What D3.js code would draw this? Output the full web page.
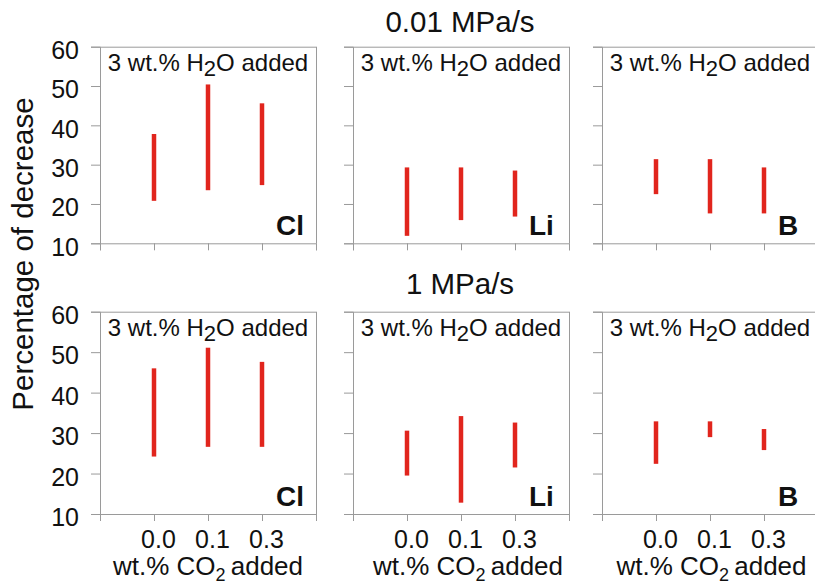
<!DOCTYPE html>
<html>
<head>
<meta charset="utf-8">
<script src="https://cdn.jsdelivr.net/npm/d3@7/dist/d3.min.js"></script>
<style>
  html, body { margin: 0; padding: 0; background: #fff; }
  svg { display: block; font-family: Arial, "Liberation Sans", sans-serif; }
</style>
</head>
<body>
<svg id="chart" width="815" height="586"></svg>
<script>
// ---------------- data ----------------
const elements = ["Cl", "Li", "B"];
const rates = ["0.01 MPa/s", "1 MPa/s"];
const co2Labels = ["0.0", "0.1", "0.3"];
const yTicks = [10, 20, 30, 40, 50, 60];
const panelNote = "3 wt.% H2O added";
const yTitle = "Percentage of decrease";
const xTitle = "wt.% CO2 added";

// percentage-of-decrease ranges (low, high) per CO2 level
// 0.01 MPa/s
const slowClLow  = [20.8, 23.5, 24.8], slowClHigh = [37.8, 50.4, 45.6];
const slowLiLow  = [11.9, 15.9, 16.8], slowLiHigh = [29.3, 29.3, 28.5];
const slowBLow   = [22.5, 17.6, 17.6], slowBHigh  = [31.4, 31.4, 29.3];
// 1 MPa/s
const fastClLow  = [24.2, 26.6, 26.6], fastClHigh = [46.0, 51.1, 47.6];
const fastLiLow  = [19.5, 12.8, 21.5], fastLiHigh = [30.6, 34.2, 32.6];
const fastBLow   = [22.4, 29.0, 25.8], fastBHigh  = [32.9, 32.9, 31.0];

const lows  = [[slowClLow, slowLiLow, slowBLow], [fastClLow, fastLiLow, fastBLow]];
const highs = [[slowClHigh, slowLiHigh, slowBHigh], [fastClHigh, fastLiHigh, fastBHigh]];

// ---------------- layout ----------------
const panelLeft = [100, 353, 602];
const panelW = 216;
const rowY = [{ top: 46.7, bottom: 243.3 }, { top: 311.7, bottom: 514 }];
const titleBaseline = [32, 293.5];
const xTitleShift = [0, 7, 1.5];
const axisColor = "#9a9a9a";
const barColor = "#e1251d";

const svg = d3.select("#chart");

rates.forEach((rate, r) => {
  const y = d3.scaleLinear().domain([10, 60]).range([rowY[r].bottom, rowY[r].top]);

  // row title
  svg.append("text")
    .attr("x", 460).attr("y", titleBaseline[r])
    .attr("text-anchor", "middle")
    .attr("font-size", 29.5).attr("fill", "#111")
    .text(rate);

  elements.forEach((el, e) => {
    const x = d3.scaleLinear().domain([0, 4]).range([panelLeft[e], panelLeft[e] + panelW]);
    const g = svg.append("g");

    // box (top + right)
    g.append("line")
      .attr("x1", x(0)).attr("x2", x(4))
      .attr("y1", y(60) + 0.5).attr("y2", y(60) + 0.5)
      .attr("stroke", axisColor);
    g.append("line")
      .attr("x1", x(4) + 0.5).attr("x2", x(4) + 0.5)
      .attr("y1", y(60)).attr("y2", y(10))
      .attr("stroke", axisColor);

    // y axis
    const yAxis = d3.axisLeft(y).tickValues(yTicks).tickSize(9).tickPadding(12)
      .tickFormat(e === 0 ? d3.format("d") : () => "");
    const ya = g.append("g").attr("transform", `translate(${x(0)},0)`).call(yAxis);
    ya.select(".domain").attr("stroke", axisColor);
    ya.selectAll(".tick line").attr("stroke", axisColor);
    ya.selectAll(".tick text")
      .attr("font-size", 25).attr("fill", "#111")
      .attr("font-family", 'Arial, "Liberation Sans", sans-serif')
      .attr("dy", "0.47em");

    // x axis (ticks only)
    const xAxis = d3.axisBottom(x).tickValues([0, 1, 2, 3, 4]).tickSize(7).tickFormat(() => "");
    const xa = g.append("g").attr("transform", `translate(0,${y(10)})`).call(xAxis);
    xa.select(".domain").attr("stroke", axisColor);
    xa.selectAll(".tick line").attr("stroke", axisColor);

    // range bars
    g.selectAll("line.bar")
      .data(co2Labels.map((c, i) => ({ i, lo: lows[r][e][i], hi: highs[r][e][i] })))
      .join("line")
      .attr("class", "bar")
      .attr("x1", d => x(d.i + 1)).attr("x2", d => x(d.i + 1))
      .attr("y1", d => y(d.lo)).attr("y2", d => y(d.hi))
      .attr("stroke", barColor).attr("stroke-width", 4.5);

    // note "3 wt.% H2O added"
    const parts = panelNote.split("2");
    const note = g.append("text")
      .attr("x", x(2)).attr("y", y(60) + 24.3)
      .attr("text-anchor", "middle")
      .attr("font-size", 24).attr("fill", "#111");
    note.append("tspan").text(parts[0]);
    note.append("tspan").attr("font-size", 22).attr("dy", 5).text("2");
    note.append("tspan").attr("dy", -5).text(parts[1]);

    // element label
    g.append("text")
      .attr("x", x(0) + 176).attr("y", y(10) - 8)
      .attr("font-size", 28).attr("font-weight", "bold").attr("fill", "#111")
      .text(el);

    if (r === 1) {
      // category labels
      g.selectAll("text.cat")
        .data(co2Labels)
        .join("text")
        .attr("class", "cat")
        .attr("x", (d, i) => x(i + 1) + 4.5)
        .attr("y", y(10) + 34.3)
        .attr("text-anchor", "middle")
        .attr("font-size", 25).attr("fill", "#111")
        .text(d => d);

      // x title
      const xp = xTitle.split("2");
      const xt = g.append("text")
        .attr("x", x(2) + xTitleShift[e]).attr("y", 575)
        .attr("text-anchor", "middle")
        .attr("font-size", 26).attr("fill", "#111");
      xt.append("tspan").text(xp[0]);
      xt.append("tspan").attr("font-size", 18).attr("dy", 6).text("2");
      xt.append("tspan").attr("font-size", 26).attr("dy", -6).text(xp[1].replace(/^ /, "\u2009"));
    }
  });
});

// y title
svg.append("text")
  .attr("transform", "translate(33,254) rotate(-90)")
  .attr("text-anchor", "middle")
  .attr("font-size", 29.5).attr("fill", "#111")
  .text(yTitle);
</script>
</body>
</html>
